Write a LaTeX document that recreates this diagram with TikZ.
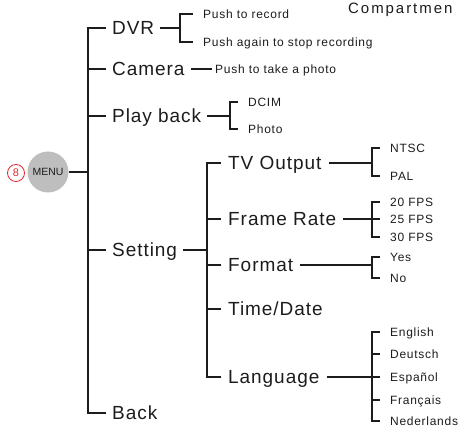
\documentclass[tikz,border=0pt]{standalone}
\usepackage{fontspec}
\setmainfont{Liberation Sans}
\newfontfamily\itemfamily[LetterSpace=5]{Liberation Sans}
\newfontfamily\leaffamily[LetterSpace=6]{Liberation Sans}
\newfontfamily\headfamily[LetterSpace=13]{Liberation Sans}
\usetikzlibrary{positioning,calc}
\definecolor{ink}{RGB}{30,27,28}
\definecolor{menugray}{RGB}{190,190,190}
\definecolor{markred}{RGB}{224,40,46}

\tikzset{
  item/.style={font=\itemfamily\fontsize{19}{21}\selectfont, anchor=west,
    inner xsep=6pt, inner ysep=0pt, text height=13.6pt, text depth=0pt, text=ink},
  sub/.style={item, inner xsep=7pt},
  leaf/.style={font=\leaffamily\fontsize{12}{14}\selectfont, anchor=west,
    inner xsep=10pt, inner ysep=0pt, text height=8.6pt, text depth=0pt, text=ink},
  conn/.style={draw=ink, line width=1.8pt},
}

\begin{document}
\begin{tikzpicture}[x=1pt,y=-1pt]
  \useasboundingbox (0,0) rectangle (464,430);

  % Menu button
  \node[circle, fill=menugray, minimum size=41pt, inner sep=0pt,
    font=\fontsize{10.5}{12}\selectfont, text=ink] (menu) at (48,172) {MENU};
  \node[circle, draw=markred, line width=0.8pt, minimum size=17pt, inner sep=0pt,
    text=markred, font=\fontsize{11}{12}\selectfont] (num) at (16,173) {8};

  % Top level
  \node[item] (dvr) at (106,28) {DVR};
  \node[item] (cam) at (106,69) {Camera};
  \node[item] (play) at (106,116) {Play back};
  \node[item] (set) at (106,250) {Setting};
  \node[item] (back) at (106,413) {Back};
  \coordinate (spine) at (88,172);
  \draw[conn] (menu.east) -- (spine);
  \draw[conn] (dvr.west) -| (spine |- back.west) -- (back.west);
  \foreach \n in {cam,play,set} \draw[conn] (\n.west) -- (spine |- \n.west);

  % DVR
  \node[leaf] (rec) at (193,14) {Push to record};
  \node[leaf] (again) at (193,42) {Push again to stop recording};
  \coordinate (dvrfork) at (180,28);
  \draw[conn] (dvr.east) -- (dvrfork);
  \draw[conn] (rec.west) -| (dvrfork) |- (again.west);

  % Camera
  \node[leaf, inner xsep=3pt] (photo) at (212,69) {Push to take a photo};
  \draw[conn] (cam.east) -- (photo.west);

  % Play back
  \node[leaf] (dcim) at (238,102) {DCIM};
  \node[leaf] (pic) at (238,129) {Photo};
  \coordinate (playfork) at (230,116);
  \draw[conn] (play.east) -- (playfork);
  \draw[conn] (dcim.west) -| (playfork) |- (pic.west);

  % Setting
  \node[sub] (tv) at (221,163) {TV Output};
  \node[sub] (fps) at (221,219) {Frame Rate};
  \node[sub] (fmt) at (221,265) {Format};
  \node[sub] (time) at (221,309) {Time/Date};
  \node[sub] (lang) at (221,377) {Language};
  \coordinate (setfork) at (207,250);
  \draw[conn] (set.east) -- (setfork);
  \draw[conn] (tv.west) -| (setfork |- lang.west) -- (lang.west);
  \foreach \n in {fps,fmt,time} \draw[conn] (\n.west) -- (setfork |- \n.west);

  % TV Output
  \node[leaf] (ntsc) at (380,148) {NTSC};
  \node[leaf] (pal) at (380,176) {PAL};
  \coordinate (tvfork) at (372,163);
  \draw[conn] (tv.east) -- (tvfork);
  \draw[conn] (ntsc.west) -| (tvfork) |- (pal.west);

  % Frame Rate
  \node[leaf] (f20) at (380,202) {20 FPS};
  \node[leaf] (f25) at (380,219) {25 FPS};
  \node[leaf] (f30) at (380,237) {30 FPS};
  \coordinate (fpsfork) at (372,219);
  \draw[conn] (fps.east) -- (f25.west);
  \draw[conn] (f20.west) -| (fpsfork) |- (f30.west);

  % Format
  \node[leaf] (yes) at (380,257) {Yes};
  \node[leaf] (no) at (380,278) {No};
  \coordinate (fmtfork) at (372,265);
  \draw[conn] (fmt.east) -- (fmtfork);
  \draw[conn] (yes.west) -| (fmtfork) |- (no.west);

  % Language
  \node[leaf] (en) at (380,332) {English};
  \node[leaf] (de) at (380,354) {Deutsch};
  \node[leaf] (es) at (380,377) {Español};
  \node[leaf] (fr) at (380,400) {Français};
  \node[leaf] (nl) at (380,421) {Nederlands};
  \coordinate (langfork) at (372,377);
  \draw[conn] (lang.east) -- (es.west);
  \draw[conn] (en.west) -| (langfork) |- (nl.west);
  \foreach \n in {de,fr} \draw[conn] (\n.west) -- (langfork |- \n.west);

  % Title fragment
  \node[font=\headfamily\fontsize{15}{17}\selectfont, anchor=base west,
    inner sep=0pt, text=ink] (comp) at (348,14) {Compartmen};
\end{tikzpicture}
\end{document}
